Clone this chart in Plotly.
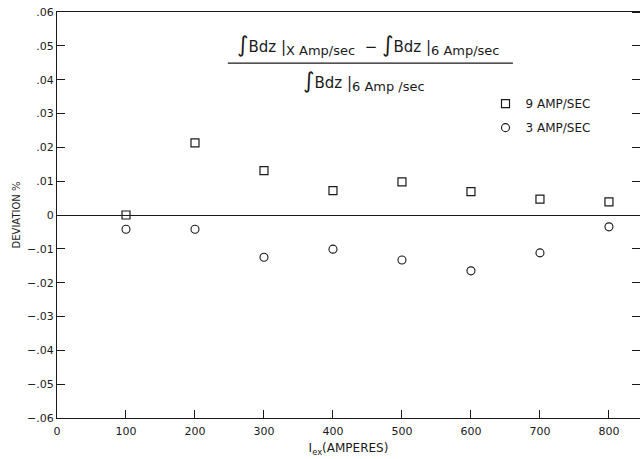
import plotly.graph_objects as go

currents = [100, 200, 300, 400, 500, 600, 700, 800]
dev_9amp = [0.0, 0.0213, 0.0131, 0.0072, 0.0098, 0.0069, 0.0047, 0.0039]
dev_3amp = [-0.0042, -0.0042, -0.0125, -0.0101, -0.0133, -0.0165, -0.0112, -0.0035]

x_ticks = [0, 100, 200, 300, 400, 500, 600, 700, 800]
x_ticktext = ["0", "100", "200", "300", "400", "500", "600", "700", "800"]
y_ticks = [0.06, 0.05, 0.04, 0.03, 0.02, 0.01, 0, -0.01, -0.02, -0.03, -0.04, -0.05, -0.06]
y_ticktext = [".06", ".05", ".04", ".03", ".02", ".01", "0",
              "\u2212.01", "\u2212.02", "\u2212.03", "\u2212.04", "\u2212.05", "\u2212.06"]

INK = "#1a1a1a"
FONT = "DejaVu Sans"

fig = go.Figure()
fig.add_trace(go.Scatter(
    x=currents, y=dev_9amp, mode="markers", name="9 AMP/SEC", legendgroup="a",
    marker=dict(symbol="square-open", size=8, color=INK, line=dict(width=1.2)),
))
fig.add_trace(go.Scatter(
    x=currents, y=dev_3amp, mode="markers", name="3 AMP/SEC", legendgroup="b",
    marker=dict(symbol="circle-open", size=8, color=INK, line=dict(width=1.1)),
))
# invisible trace for right-side tick axis
fig.add_trace(go.Scatter(x=currents, y=dev_9amp, yaxis="y2", mode="markers",
                         marker=dict(opacity=0), showlegend=False, hoverinfo="skip"))

fig.update_layout(
    width=640, height=459,
    margin=dict(l=57, r=0, t=12, b=41, autoexpand=False),
    paper_bgcolor="white", plot_bgcolor="white",
    font=dict(family=FONT, size=11, color=INK),
    showlegend=True,
    legend=dict(x=0.735, y=0.81, xanchor="left", yanchor="top",
                bgcolor="rgba(0,0,0,0)", font=dict(size=12, family=FONT),
                itemsizing="trace", traceorder="grouped", tracegroupgap=5, itemwidth=30),
    xaxis=dict(
        range=[0, 845], tickvals=x_ticks, ticktext=x_ticktext,
        showgrid=False, zeroline=False, automargin=False,
        showline=True, linecolor=INK, linewidth=1.3, mirror=True,
        ticks="inside", ticklen=8, tickcolor=INK, tickwidth=1,
        ticklabelstandoff=3,
        tickfont=dict(size=11, family=FONT),
        title=dict(text="I<sub>ex</sub>(AMPERES)", font=dict(size=12, family=FONT), standoff=6),
    ),
    yaxis=dict(
        range=[-0.06, 0.06], tickvals=y_ticks, ticktext=y_ticktext,
        showgrid=False, zeroline=True, zerolinecolor=INK, zerolinewidth=1.2,
        showline=True, linecolor=INK, linewidth=1.3, automargin=False,
        ticks="inside", ticklen=8, tickcolor=INK, tickwidth=1,
        tickfont=dict(size=11, family=FONT),
        title=dict(text="DEVIATION %", font=dict(size=10, family=FONT), standoff=4),
    ),
    yaxis2=dict(
        range=[-0.06, 0.06], tickvals=y_ticks, overlaying="y",
        side="left", anchor="free", position=1.0,
        showticklabels=False, showgrid=False, zeroline=False, showline=False,
        automargin=False,
        ticks="outside", ticklen=8, tickcolor=INK, tickwidth=1,
    ),
)

# formula annotation
INT = "<span style='font-size:22px'>\u222B</span>"
def sub(t):
    return "<sub><span style='font-size:13px'>" + t + "</span></sub>"

fig.add_annotation(
    xref="paper", yref="paper", x=0.535, y=0.919, xanchor="center", yanchor="middle",
    text=INT + "Bdz |" + sub("X Amp/sec") + "  \u2212 " + INT + "Bdz |" + sub("6 Amp/sec"),
    showarrow=False, font=dict(size=15, family=FONT, color=INK),
)
fig.add_shape(type="line", xref="paper", yref="paper",
              x0=0.293, x1=0.782, y0=0.874, y1=0.874, line=dict(color=INK, width=1.3))
fig.add_annotation(
    xref="paper", yref="paper", x=0.527, y=0.829, xanchor="center", yanchor="middle",
    text=INT + "Bdz |" + sub("6 Amp /sec"),
    showarrow=False, font=dict(size=15, family=FONT, color=INK),
)

fig.write_html("out.html", config={"displayModeBar": False},
               post_script="document.body.style.margin='0';document.body.style.overflow='hidden';")
